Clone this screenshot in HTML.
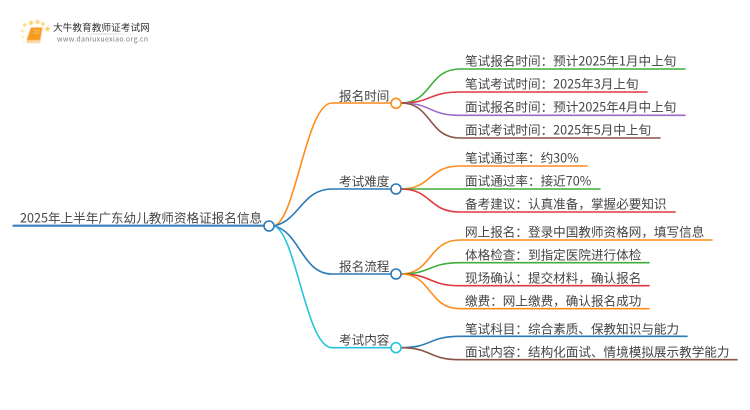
<!DOCTYPE html>
<html><head><meta charset="utf-8"><style>
html,body{margin:0;padding:0;background:#fff}
svg{display:block}
text{font-family:"Noto Sans CJK SC","Liberation Sans",sans-serif;fill:#444;font-size:12.6px}
.l{fill:none;stroke-width:1.6;stroke-linecap:round}
.c{fill:#fff;stroke-width:1.6}
</style></head><body>
<svg width="750" height="410" viewBox="0 0 750 410" xmlns="http://www.w3.org/2000/svg">
<defs>
<filter id="b" x="-20%" y="-20%" width="140%" height="140%"><feGaussianBlur stdDeviation="0.45"/></filter>
<filter id="s" x="0" y="0" width="750" height="410" filterUnits="userSpaceOnUse"><feGaussianBlur stdDeviation="0.28"/></filter>
<linearGradient id="g" x1="0" x2="1" y1="0" y2="0"><stop offset="0" stop-color="#ddd" stop-opacity="0"/><stop offset=".5" stop-color="#ccc"/><stop offset="1" stop-color="#ddd" stop-opacity="0"/></linearGradient>
</defs>
<!-- logo -->
<g filter="url(#b)">
<g fill="#fbd36b"><circle cx="23" cy="37" r="1.3" opacity=".6"/><circle cx="22.500" cy="31" r="1.500" opacity=".7"/><circle cx="24.500" cy="25" r="1.700" opacity=".85"/><circle cx="31" cy="23" r="2"/><circle cx="37.500" cy="22" r="2"/><circle cx="43" cy="24" r="1.800"/><circle cx="47.500" cy="29" r="2.200"/><circle cx="24" cy="42" r="1" opacity=".5"/></g>
<path d="M31 27.500 H42.500 L40 41 H29 Q26.500 41 27 39 Z" fill="#f59a1b"/>
<path d="M27.500 42.500 H39.500 L40 40 H29 Q27 40 27.500 42.500Z" fill="#fde3b0" stroke="#f59a1b" stroke-width=".6"/>
<path d="M33.500 30.500 H40 M33 33 H39.500" stroke="#fbd27a" stroke-width=".8" fill="none"/>
</g>
<g filter="url(#s)">
<text x="53" y="31" style="font-size:9.7px;fill:#333">大牛教育教师证考试网</text>
<rect x="70" y="33.500" width="70" height="1" fill="url(#g)"/>
<text x="57" y="41.500" style="font-size:6.800px;fill:#777" textLength="91">www.daniuxuexiao.org.cn</text>
<!-- root -->
<path class="l" d="M13.500 225.700 H264" stroke="#3a7fbd" style="stroke-width:2.200"/>
<path class="l" stroke="#ff8c1a" d="M274 226 C296 220 306 103 332 103 H391"/>
<path class="l" stroke="#2a7ab8" d="M274 226 C300 220 302 189 332 189 H391"/>
<path class="l" stroke="#2a7ab8" d="M274 226 C300 232 302 274 332 274 H391"/>
<path class="l" stroke="#26c3dc" d="M274 226 C296 232 306 347.700 332 347.700 H391"/>
<!-- group 1 -->
<path class="l" stroke="#3fae3a" d="M401 103 C432 103 428 69 460 69 H685"/>
<path class="l" stroke="#e0383e" d="M401 103 C432 103 428 92 460 92 H647"/>
<path class="l" stroke="#9a6bc4" d="M401 103 C432 103 428 115.300 460 115.300 H685"/>
<path class="l" stroke="#8c5448" d="M401 103 C432 103 428 138 460 138 H660"/>
<!-- group 2 -->
<path class="l" stroke="#ff8c1a" d="M401 189 C432 189 428 166 460 166 H587"/>
<path class="l" stroke="#3fae3a" d="M401 189 H600"/>
<path class="l" stroke="#e0383e" d="M401 189 C432 189 428 212 460 212 H675"/>
<!-- group 3 -->
<path class="l" stroke="#ff8c1a" d="M401 274 C432 274 428 240 460 240 H712"/>
<path class="l" stroke="#3fae3a" d="M401 274 C432 274 428 262.700 460 262.700 H649"/>
<path class="l" stroke="#e0383e" d="M401 274 C432 274 428 285.700 460 285.700 H649"/>
<path class="l" stroke="#ff8c1a" d="M401 274 C432 274 428 308.700 460 308.700 H649"/>
<!-- group 4 -->
<path class="l" stroke="#2a7ab8" d="M401 347.700 C432 347.700 428 336.300 460 336.300 H687"/>
<path class="l" stroke="#8c5448" d="M401 347.700 C432 347.700 428 359.700 460 359.700 H737"/>
<!-- circles -->
<circle class="c" cx="269" cy="226" r="5" stroke="#2a7ab8"/>
<circle class="c" cx="396" cy="103.300" r="5" stroke="#ff8c1a"/>
<circle class="c" cx="396" cy="189" r="5" stroke="#2a7ab8"/>
<circle class="c" cx="396" cy="274" r="5" stroke="#2a7ab8"/>
<circle class="c" cx="396" cy="347.700" r="5" stroke="#26c3dc"/>
<!-- labels -->
<text x="20" y="222.500">2025年上半年广东幼儿教师资格证报名信息</text>
<text x="339" y="100.500">报名时间</text>
<text x="339" y="186">考试难度</text>
<text x="339" y="271">报名流程</text>
<text x="339" y="344.500">考试内容</text>
<text x="465" y="65.500">笔试报名时间：预计2025年1月中上旬</text>
<text x="465" y="88.500">笔试考试时间：2025年3月上旬</text>
<text x="465" y="111.500">面试报名时间：预计2025年4月中上旬</text>
<text x="465" y="134.500">面试考试时间：2025年5月中上旬</text>
<text x="465" y="162.500">笔试通过率：约30%</text>
<text x="465" y="185.500">面试通过率：接近70%</text>
<text x="465" y="208.500">备考建议：认真准备，掌握必要知识</text>
<text x="465" y="236.500">网上报名：登录中国教师资格网，填写信息</text>
<text x="465" y="259.500">体格检查：到指定医院进行体检</text>
<text x="465" y="282.500">现场确认：提交材料，确认报名</text>
<text x="465" y="305.500">缴费：网上缴费，确认报名成功</text>
<text x="465" y="333.500">笔试科目：综合素质、保教知识与能力</text>
<text x="465" y="356.500">面试内容：结构化面试、情境模拟展示教学能力</text>
</g>
</svg>
</body></html>
